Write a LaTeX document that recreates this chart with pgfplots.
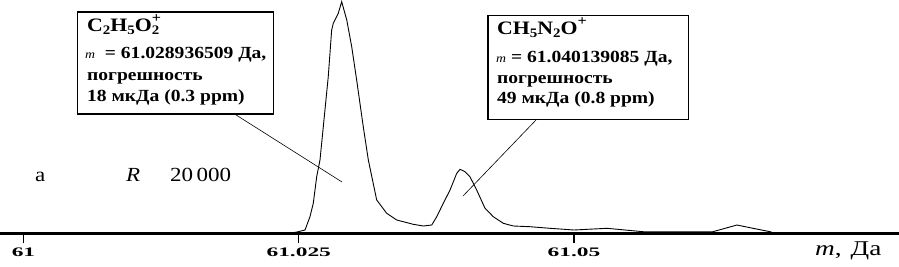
\documentclass[border=0pt]{standalone}
\usepackage{fontspec}
\setmainfont{Liberation Serif}[FakeStretch=1.15]
\newfontfamily\tickfont{Liberation Serif}[FakeStretch=1.8]
\newfontfamily\widefont{Liberation Serif}[FakeStretch=1.3]
\usepackage{pgfplots}
\pgfplotsset{compat=1.18}

\pgfplotstableread{
m        I
61.02375 0
61.02450 0.6
61.02496 1.6
61.02557 3.3
61.02602 16.6
61.02632 30
61.02663 56.6
61.02693 73.3
61.02723 106.6
61.02768 156.6
61.02799 203.3
61.02814 210
61.02859 220
61.02890 231.6
61.02936 213.3
61.02981 186.6
61.03026 153.3
61.03086 106.6
61.03132 73.3
61.03208 33.3
61.03299 20
61.03390 13.3
61.03540 9
61.03631 7.3
61.03708 8.3
61.03753 16.6
61.03813 30
61.03874 43.3
61.03935 60
61.03965 64
61.04010 61.6
61.04055 56.6
61.04116 43.3
61.04192 25
61.04267 16.6
61.04358 10
61.04449 7.3
61.04600 6.6
61.04782 5
61.05000 3.3
61.05300 5
61.05627 1.6
61.05781 1.6
61.06262 1.6
61.06480 8.3
61.06626 5
61.06780 1.6
61.06826 0
}\spectrum

\newcommand{\chsub}[1]{\raisebox{-0.45ex}{\fontsize{13}{13}\selectfont #1}}
\newcommand{\chsup}[1]{\raisebox{0.95ex}{\fontsize{14}{14}\selectfont #1}}

\begin{document}
\begin{tikzpicture}
\useasboundingbox (0pt,0pt) rectangle (899pt,266pt);
\begin{axis}[
  at={(0pt,32.7pt)}, anchor=south west,
  scale only axis, width=899pt, height=233.3pt,
  xmin=60.997866, xmax=61.079519, ymin=0, ymax=233.3,
  axis x line=bottom, axis y line=none,
  x axis line style={-, line width=3.3pt},
  xtick={61,61.025,61.05}, xticklabels={61,61.025,61.05},
  tick align=outside, major tick length=10pt,
  xtick style={line width=1.5pt, black},
  xticklabel style={font=\tickfont\bfseries\fontsize{13}{13}\selectfont, anchor=north, inner sep=0pt, yshift=-4.5pt},
  clip=false,
]
\addplot[black, line width=0.9pt] table[x=m, y=I] {\spectrum};
\end{axis}

% leader lines
\draw[line width=0.6pt] (233pt,153pt) -- (342pt,84pt);
\draw[line width=0.6pt] (536pt,146pt) -- (463pt,70pt);

% boxes
\draw[line width=1.3pt, fill=white] (77.5pt,254pt) rectangle (273.5pt,152pt);
\draw[line width=1.3pt, fill=white] (488pt,250.5pt) rectangle (688.5pt,146.5pt);

\begin{scope}[every node/.style={anchor=base west, inner sep=0pt, font=\bfseries\fontsize{17}{20}\selectfont}]
\node at (87pt,235pt) {\fontsize{19}{22}\selectfont C\chsub{2}H\chsub{5}O\rlap{\chsup{+}}\chsub{2}};
\node at (85pt,208pt) {{\mdseries\itshape\fontsize{12}{12}\selectfont m}\ \ = 61.028936509 Да,};
\node at (87pt,186pt) {погрешность};
\node at (87pt,165pt) {18 мкДа (0.3 ppm)};

\node at (497pt,232pt) {\fontsize{19}{22}\selectfont CH\chsub{5}N\chsub{2}O\chsup{+}};
\node at (496pt,204pt) {{\mdseries\itshape\fontsize{12}{12}\selectfont m}\ = 61.040139085 Да,};
\node at (497pt,183pt) {погрешность};
\node at (497pt,163pt) {49 мкДа (0.8 ppm)};
\end{scope}

\begin{scope}[every node/.style={anchor=base west, inner sep=0pt}]
\node[font=\fontsize{20}{20}\selectfont] at (35pt,84.3pt) {a};
\node[font=\fontsize{20}{20}\selectfont\itshape] at (126pt,84.3pt) {R};
\node[font=\fontsize{20}{20}\selectfont] at (170pt,84.3pt) {20\,000};
\node[font=\widefont\fontsize{21}{21}\selectfont] at (815pt,11pt) {\textit{m},\hspace{9pt}Да};
\end{scope}
\end{tikzpicture}
\end{document}
